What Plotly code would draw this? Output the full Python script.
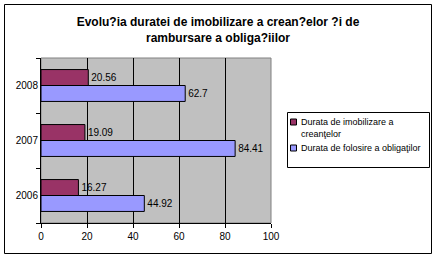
import plotly.graph_objects as go

years = ["2006", "2007", "2008"]
imobilizare = [16.27, 19.09, 20.56]
folosire = [44.92, 84.41, 62.7]
name_imob = "Durata de imobilizare a<br>crean\u0163elor"
name_fol = "Durata de folosire a obliga\u0163ilor"
title_text = "Evolu?ia duratei de imobilizare a crean?elor ?i de<br>rambursare a obliga?iilor"
col_imob = "#993366"
col_fol = "#9999FF"

W, H = 436, 259
L, R, T, B = 41, 271, 58, 223

fnt = dict(family="Liberation Sans, Arial, sans-serif", size=10, color="black")
lfnt = dict(family="Liberation Sans, Arial, sans-serif", size=9, color="black")

fig = go.Figure()
fig.add_trace(go.Bar(
    y=years, x=folosire, orientation="h", name=name_fol,
    marker=dict(color=col_fol, line=dict(color="black", width=1)),
    text=[str(v) for v in folosire], textposition="outside", cliponaxis=False,
    textfont=fnt,
))
fig.add_trace(go.Bar(
    y=years, x=imobilizare, orientation="h", name=name_imob,
    marker=dict(color=col_imob, line=dict(color="black", width=1)),
    text=[str(v) for v in imobilizare], textposition="outside", cliponaxis=False,
    textfont=fnt,
))

def px_x(p):
    return (p - L) / (R - L)

def px_y(p):
    return (B - p) / (B - T)

shapes = [
    dict(type="rect", xref="paper", yref="paper", x0=0, x1=1, y0=0, y1=1,
         line=dict(color="#808080", width=1), layer="below"),
    dict(type="rect", xref="paper", yref="paper",
         x0=px_x(4.5), x1=px_x(431.5), y0=px_y(253.5), y1=px_y(4.5),
         line=dict(color="black", width=1), layer="above"),
    # legend box
    dict(type="rect", xref="paper", yref="paper",
         x0=px_x(287.5), x1=px_x(429.5), y0=px_y(167.5), y1=px_y(112.5),
         line=dict(color="black", width=1), fillcolor="white", layer="above"),
]
annotations = []
legend_items = [(name_imob, col_imob, 122, 128), (name_fol, col_fol, 148, 148)]
for name, col, sy, ty in legend_items:
    shapes.append(dict(type="rect", xref="paper", yref="paper",
                       x0=px_x(290.5), x1=px_x(296.5), y0=px_y(sy + 3), y1=px_y(sy - 3),
                       line=dict(color="black", width=1), fillcolor=col, layer="above"))
    annotations.append(dict(text=name, xref="paper", yref="paper", x=px_x(299), y=px_y(ty),
                            xanchor="left", yanchor="middle", showarrow=False, align="left",
                            font=lfnt))

fig.update_layout(
    width=W, height=H,
    margin=dict(l=L, r=W - R, t=T, b=H - B, pad=0, autoexpand=False),
    paper_bgcolor="white", plot_bgcolor="#C0C0C0",
    barmode="group", bargap=0.42, bargroupgap=0,
    font=fnt,
    showlegend=False,
    title=dict(
        text=title_text, x=0.5, xref="container", xanchor="center",
        y=1 - 26 / H, yanchor="middle",
        font=dict(family="Liberation Sans, Arial, sans-serif", size=12, color="black", weight="bold"),
    ),
    xaxis=dict(
        range=[0, 100], dtick=20, showgrid=True, gridcolor="black", gridwidth=1,
        showline=True, linecolor="black", linewidth=1, ticks="outside", ticklen=4,
        tickcolor="black", zeroline=False, tickfont=fnt, fixedrange=True,
    ),
    yaxis=dict(
        type="category", categoryorder="array", categoryarray=years,
        showgrid=False, showline=True, linecolor="black", linewidth=1,
        ticks="outside", ticklen=4, tickcolor="black", tickson="boundaries",
        tickfont=fnt, zeroline=False, fixedrange=True,
    ),
    shapes=shapes,
    annotations=annotations,
)

fig.write_html("out.html")
